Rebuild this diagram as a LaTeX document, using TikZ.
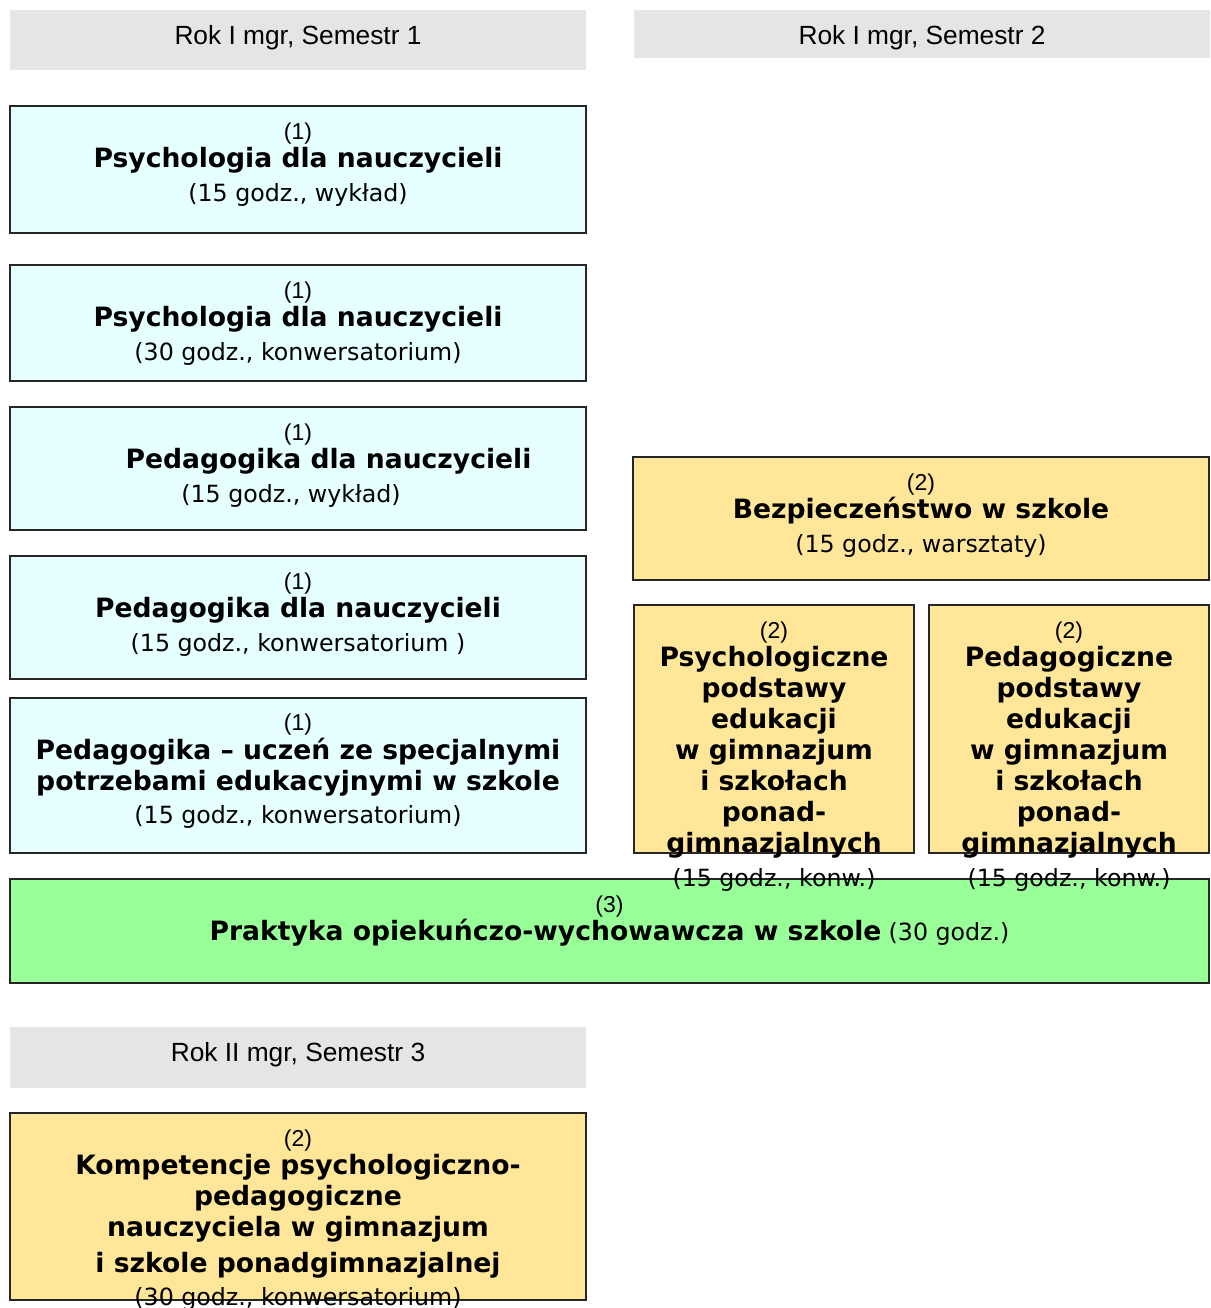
\documentclass[tikz,border=0pt]{standalone}
\usepackage{fontspec}
\setmainfont{DejaVu Sans}
\newfontfamily\arialfont{Liberation Sans}
\usetikzlibrary{positioning,calc}
\definecolor{semgray}{HTML}{E5E5E5}
\definecolor{psycyan}{HTML}{E6FFFF}
\definecolor{pedyellow}{HTML}{FFE699}
\definecolor{pracgreen}{HTML}{99FF99}
\newcommand{\nr}[1]{{\arialfont\fontsize{23}{31}\selectfont #1}}
\newcommand{\ttl}[1]{{\bfseries\fontsize{26.6}{31}\selectfont #1}}
\newcommand{\hrs}[1]{{\fontsize{23.7}{31}\selectfont #1}}
\tikzstyle{sem} = [rectangle, fill=semgray, inner sep=0pt, minimum width=576pt]
\tikzstyle{semtxt} = [inner sep=0pt, text=black, font=\arialfont\fontsize{26.3}{31}\selectfont]
\tikzstyle{course} = [draw=black!85, line width=1.5pt, rectangle, inner sep=0pt, minimum width=576pt]
\tikzstyle{psy} = [course, fill=psycyan]
\tikzstyle{ped} = [course, fill=pedyellow]
\tikzstyle{prac} = [course, fill=pracgreen]
\tikzstyle{txt} = [align=center, inner sep=0pt, text=black, font=\fontsize{23}{31}\selectfont]

\begin{document}
\begin{tikzpicture}[x=1pt, y=-1pt]
    \useasboundingbox (0,0) rectangle (1210,1308);

    \node [sem, minimum height=60pt] (h1) at (298,40) {};
    \node [sem, minimum height=48pt] (h2) at (922,34) {};
    \node [sem, minimum height=61pt] (h3) at (298,1057.5) {};

    \node [psy, minimum height=127pt] (a1) at (298,169.5) {};
    \node [psy, minimum height=116pt] (a2) at (298,323) {};
    \node [psy, minimum height=123pt] (a3) at (298,468.5) {};
    \node [psy, minimum height=123pt] (a4) at (298,617.5) {};
    \node [psy, minimum height=155pt] (a5) at (298,775.5) {};

    \node [ped, minimum height=123pt] (b1) at (921,518.5) {};
    \node [ped, minimum height=248pt, minimum width=280pt] (b2) at (774,729) {};
    \node [ped, minimum height=248pt, minimum width=280pt] (b3) at (1069,729) {};

    \node [prac, minimum height=104pt, minimum width=1199pt] (pr) at (609.5,931) {};

    \node [ped, minimum height=187pt] (c1) at (298,1206.5) {};

    \node [semtxt] (h1t) at ($(h1.north)+(0,28)$) {Rok I mgr, Semestr 1};
    \node [semtxt] (h2t) at ($(h2.north)+(0,28)$) {Rok I mgr, Semestr 2};
    \node [semtxt] (h3t) at ($(h3.north)+(0,28)$) {Rok II mgr, Semestr 3};

    \node [txt, below=17pt of a1.north] (a1t) {\nr{(1)}\\[-3pt]\ttl{Psychologia dla nauczycieli}\\[3pt]\hrs{(15 godz., wykład)}};
    \node [txt, below=17pt of a2.north] (a2t) {\nr{(1)}\\[-3pt]\ttl{Psychologia dla nauczycieli}\\[3pt]\hrs{(30 godz., konwersatorium)}};
    \node [txt, below=17pt of a3.north] (a3t) {\nr{(1)}\\[-3pt]\hspace*{61pt}\ttl{Pedagogika dla nauczycieli}\\[3pt]\hrs{(15 godz., wykład)}\hspace*{14pt}};
    \node [txt, below=17pt of a4.north] (a4t) {\nr{(1)}\\[-3pt]\ttl{Pedagogika dla nauczycieli}\\[3pt]\hrs{(15 godz., konwersatorium )}};
    \node [txt, below=16pt of a5.north] (a5t) {\nr{(1)}\\[-2pt]\ttl{Pedagogika – uczeń ze specjalnymi}\\\ttl{potrzebami edukacyjnymi w szkole}\\[2pt]\hrs{(15 godz., konwersatorium)}};

    \node [txt, below=17pt of b1.north] (b1t) {\nr{(2)}\\[-3pt]\ttl{Bezpieczeństwo w szkole}\\[3pt]\hrs{(15 godz., warsztaty)}};
    \node [txt, below=17pt of b2.north] (b2t) {\nr{(2)}\\[-3pt]\ttl{Psychologiczne}\\\ttl{podstawy}\\\ttl{edukacji}\\\ttl{w gimnazjum}\\\ttl{i szkołach}\\\ttl{ponad-}\\\ttl{gimnazjalnych}\\[3pt]\hrs{(15 godz., konw.)}};
    \node [txt, below=17pt of b3.north] (b3t) {\nr{(2)}\\[-3pt]\ttl{Pedagogiczne}\\\ttl{podstawy}\\\ttl{edukacji}\\\ttl{w gimnazjum}\\\ttl{i szkołach}\\\ttl{ponad-}\\\ttl{gimnazjalnych}\\[3pt]\hrs{(15 godz., konw.)}};

    \node [txt, below=17pt of pr.north] (prt) {\nr{(3)}\\[-3pt]\ttl{Praktyka opiekuńczo-wychowawcza w szkole} \hrs{(30 godz.)}};

    \node [txt, below=17pt of c1.north] (c1t) {\nr{(2)}\\[-3pt]\ttl{Kompetencje psychologiczno-}\\\ttl{pedagogiczne}\\\ttl{nauczyciela w gimnazjum}\\[5pt]\ttl{i szkole ponadgimnazjalnej}\\[2pt]\hrs{(30 godz., konwersatorium)}};
\end{tikzpicture}
\end{document}
